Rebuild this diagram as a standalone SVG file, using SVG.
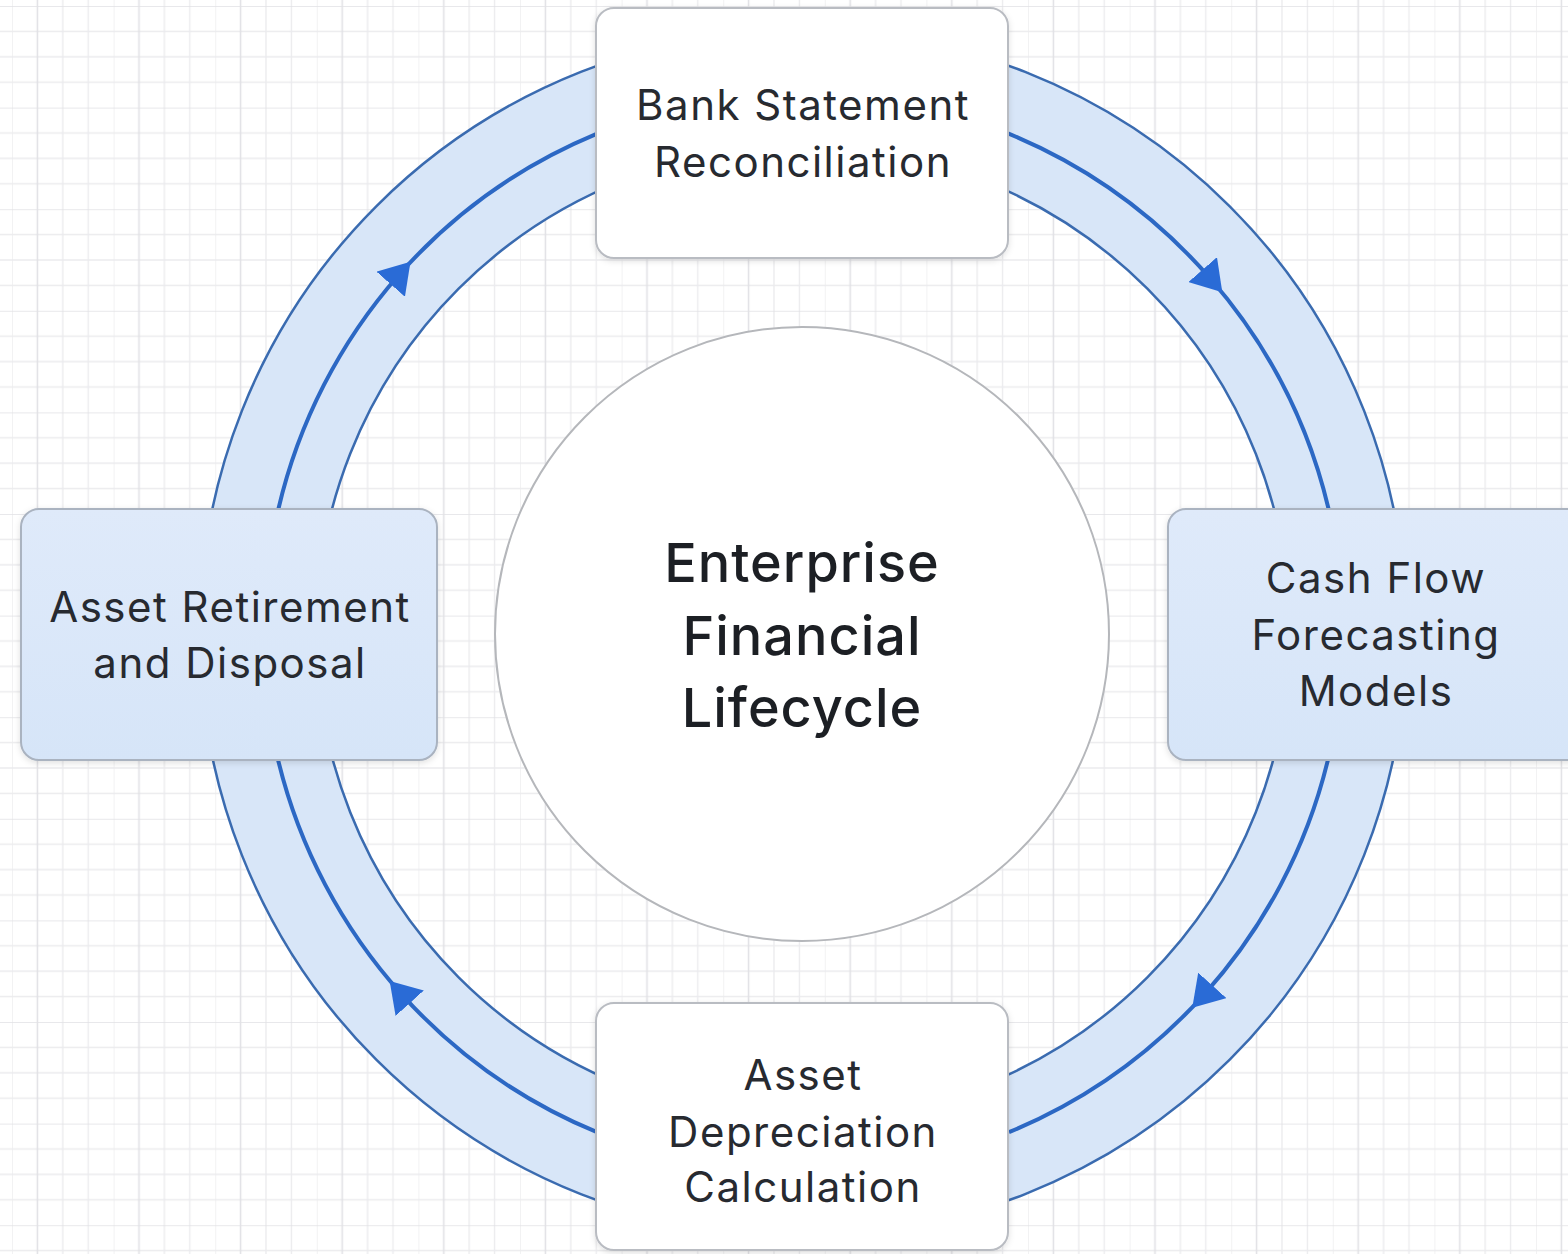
<svg xmlns="http://www.w3.org/2000/svg" width="1568" height="1254" viewBox="0 0 1568 1254">
  <defs>
    <pattern id="grid" patternUnits="userSpaceOnUse" x="12" y="6" width="101.6" height="101.6">
      <rect width="101.6" height="101.6" fill="#ffffff"/>
      <g stroke="#ebebee" stroke-width="1.3">
        <line x1="0" y1="0" x2="0" y2="101.6"/>
        <line x1="50.8" y1="0" x2="50.8" y2="101.6"/>
        <line x1="76.2" y1="0" x2="76.2" y2="101.6"/>
        <line x1="0" y1="25.4" x2="101.6" y2="25.4"/>
        <line x1="0" y1="50.8" x2="101.6" y2="50.8"/>
        <line x1="0" y1="76.2" x2="101.6" y2="76.2"/>
      </g>
      <g stroke="#e1e1e5" stroke-width="1.5">
        <line x1="25.4" y1="0" x2="25.4" y2="101.6"/>
        <line x1="0" y1="0" x2="101.6" y2="0"/>
      </g>
    </pattern>
    <marker id="arrow" viewBox="0 0 30 38" markerUnits="userSpaceOnUse" markerWidth="30" markerHeight="38" refX="12" refY="19" orient="auto">
      <path d="M0,0 L30,19 L0,38 z" fill="#2a6bd6"/>
    </marker>
    <filter id="shadow" x="-10%" y="-10%" width="120%" height="130%">
      <feDropShadow dx="0" dy="2" stdDeviation="3" flood-color="#000" flood-opacity="0.12"/>
    </filter>
    <linearGradient id="blueFill" x1="0" y1="0" x2="0" y2="1">
      <stop offset="0" stop-color="#dfeafa"/>
      <stop offset="1" stop-color="#d6e5f8"/>
    </linearGradient>
  </defs>
  <style>
    .box-white { fill: #ffffff; stroke: #b9bcc2; stroke-width: 2; filter: url(#shadow); }
    .box-blue { fill: url(#blueFill); stroke: #aab3c0; stroke-width: 2; filter: url(#shadow); }
    .label { font-family: Inter, "Noto Sans", "Liberation Sans", sans-serif; font-size: 42px; letter-spacing: 1.5px; fill: #272a30; text-anchor: middle; }
    .center-label { font-family: Inter, "Noto Sans", "Liberation Sans", sans-serif; font-size: 54px; letter-spacing: 1px; fill: #1c1f24; text-anchor: middle; font-weight: 500; }
    .edge { fill: none; stroke: #3a6bb0; stroke-width: 2.5; }
    .flow { fill: none; stroke: #2c68c4; stroke-width: 4; marker-mid: url(#arrow); }
  </style>

  <rect x="0" y="0" width="1568" height="1254" fill="url(#grid)"/>

  <g id="ring">
    <circle cx="803" cy="633" r="545" fill="none" stroke="#d8e6f8" stroke-width="117"/>
    <circle class="edge" cx="803" cy="633" r="603.5"/>
    <circle class="edge" cx="803" cy="633" r="487"/>
  </g>

  <g id="connectors">
    <path class="flow" d="M1008,133.4 A540,540 0 0 1 1210.5,278.7 A540,540 0 0 1 1328.6,509"/>
    <path class="flow" d="M1327.9,760 A540,540 0 0 1 1204.3,994.3 A540,540 0 0 1 1009,1132.2"/>
    <path class="flow" d="M597,1132.2 A540,540 0 0 1 401.7,994.3 A540,540 0 0 1 278.1,760"/>
    <path class="flow" d="M278.4,509 A540,540 0 0 1 398.6,275.2 A540,540 0 0 1 596,134.2"/>
  </g>

  <g id="center">
    <circle cx="802" cy="634" r="307" fill="#ffffff" stroke="#b5b7bb" stroke-width="2"/>
    <text class="center-label" x="802" y="582">Enterprise</text>
    <text class="center-label" x="802" y="655">Financial</text>
    <text class="center-label" x="802" y="727">Lifecycle</text>
  </g>

  <g id="node-bank">
    <rect class="box-white" x="596" y="8" width="412" height="250" rx="18"/>
    <text class="label" x="803" y="120">Bank Statement</text>
    <text class="label" x="803" y="177">Reconciliation</text>
  </g>

  <g id="node-cashflow">
    <rect class="box-blue" x="1168" y="509" width="430" height="251" rx="18"/>
    <text class="label" x="1376" y="593">Cash Flow</text>
    <text class="label" x="1376" y="650">Forecasting</text>
    <text class="label" x="1376" y="706">Models</text>
  </g>

  <g id="node-depreciation">
    <rect class="box-white" x="596" y="1003" width="412" height="247" rx="18"/>
    <text class="label" x="803" y="1090">Asset</text>
    <text class="label" x="803" y="1147">Depreciation</text>
    <text class="label" x="803" y="1202">Calculation</text>
  </g>

  <g id="node-retirement">
    <rect class="box-blue" x="21" y="509" width="416" height="251" rx="18"/>
    <text class="label" x="230" y="622">Asset Retirement</text>
    <text class="label" x="230" y="678">and Disposal</text>
  </g>
</svg>
